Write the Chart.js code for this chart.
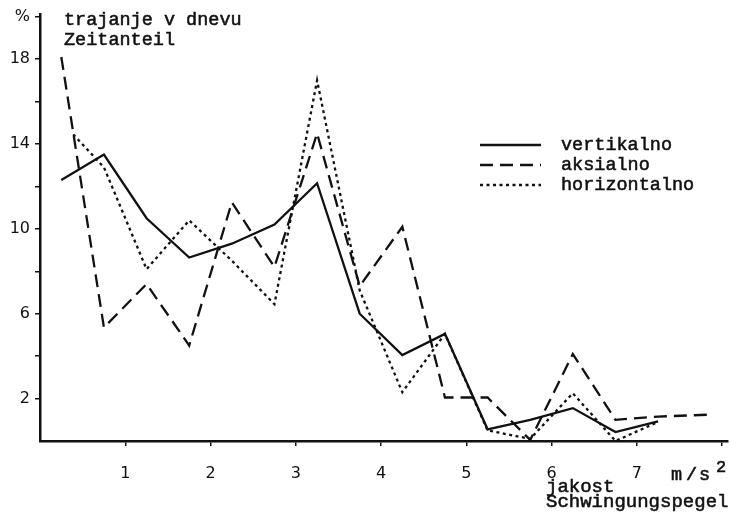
<!DOCTYPE html>
<html>
<head>
<meta charset="utf-8">
<script src="https://cdn.jsdelivr.net/npm/chart.js@4/dist/chart.umd.min.js"></script>
<style>
  html, body { margin: 0; padding: 0; background: #fff; }
  #wrap { width: 732px; height: 521px; }
</style>
</head>
<body>
<div id="wrap"><canvas id="c" width="732" height="521"></canvas></div>
<script>
// Vibration level classes (m/s^2, class midpoints) and share of the day (%)
const xVertikalno = [0.25, 0.75, 1.25, 1.75, 2.25, 2.75, 3.25, 3.75, 4.25, 4.75, 5.25, 5.75, 6.25, 6.75, 7.25];
const vertikalno  = [12.3, 13.5, 10.5, 8.65, 9.3, 10.2, 12.15, 6.0, 4.05, 5.05, 0.55, 1.0, 1.55, 0.42, 0.93];

const xAksialno = [0.25, 0.75, 1.25, 1.75, 2.25, 2.75, 3.25, 3.75, 4.25, 4.75, 5.25, 5.75, 6.25, 6.75, 7.25, 7.9];
const aksialno  = [18.1, 5.35, 7.4, 4.5, 11.25, 8.2, 14.5, 7.3, 10.1, 2.05, 2.05, 0.05, 4.1, 1.0, 1.15, 1.25];

const xHorizontalno = [0.39, 0.75, 1.25, 1.75, 2.25, 2.75, 3.25, 3.75, 4.25, 4.75, 5.25, 5.75, 6.25, 6.75, 7.25];
const horizontalno  = [14.45, 12.9, 8.1, 10.4, 8.5, 6.45, 17.0, 7.1, 2.3, 5.05, 0.5, 0.1, 2.25, 0.0, 0.9];

const seriesLabels = ['vertikalno', 'aksialno', 'horizontalno'];

const xTickValues = [1, 2, 3, 4, 5, 6, 7, 8];
const xTickLabels = ['1', '2', '3', '4', '5', '6', '7', ''];
const yTickValues = [2, 4, 6, 8, 10, 12, 14, 16, 18, 20];
const yTickLabels = ['2', '', '6', '', '10', '', '14', '', '18', '%'];

const INK = '#111';
const MONO = '"Liberation Mono", "DejaVu Sans Mono", monospace';
const SANS = '"DejaVu Sans", "Liberation Sans", sans-serif';

const toPoints = (xs, ys) => xs.map((x, i) => ({ x: x, y: ys[i] }));

// typewriter-weight text: fill plus a hairline outline
function inkText(ctx, str, x, y) {
  ctx.fillText(str, x, y);
  ctx.strokeText(str, x, y);
}

// Axis captions, unit and the line-style key
const annotations = {
  id: 'annotations',
  afterDraw(chart) {
    const ctx = chart.ctx;
    ctx.save();
    ctx.fillStyle = INK;
    ctx.strokeStyle = INK;
    ctx.lineWidth = 0.55;
    ctx.textAlign = 'left';
    ctx.textBaseline = 'alphabetic';
    ctx.font = '18.5px ' + MONO;
    inkText(ctx, 'trajanje v dnevu', 64, 25);
    inkText(ctx, 'Zeitanteil', 64, 45);

    // unit, spaced like typewritten characters
    inkText(ctx, 'm', 671, 480);
    inkText(ctx, '/', 686, 480);
    inkText(ctx, 's', 699, 480);
    ctx.font = '17px ' + MONO;
    inkText(ctx, '2', 716, 472);

    ctx.font = '19px ' + MONO;
    inkText(ctx, 'jakost', 546, 492);
    inkText(ctx, 'Schwingungspegel', 546, 507);

    // key
    const rows = [145, 165, 185];
    chart.data.datasets.forEach((ds, i) => {
      const y = rows[i];
      ctx.beginPath();
      ctx.setLineDash(ds.borderDash || []);
      ctx.lineWidth = ds.borderWidth;
      ctx.moveTo(480, y);
      ctx.lineTo(541, y);
      ctx.stroke();
      ctx.setLineDash([]);
      ctx.lineWidth = 0.55;
      ctx.font = '18.5px ' + MONO;
      ctx.textBaseline = 'middle';
      inkText(ctx, ds.label, 561, y);
    });
    ctx.restore();
  }
};

new Chart(document.getElementById('c'), {
  type: 'line',
  data: {
    datasets: [
      {
        label: seriesLabels[0],
        data: toPoints(xVertikalno, vertikalno),
        borderColor: INK, borderWidth: 2.3, borderDash: [],
        pointRadius: 0, fill: false, tension: 0
      },
      {
        label: seriesLabels[1],
        data: toPoints(xAksialno, aksialno),
        borderColor: INK, borderWidth: 2.3, borderDash: [13, 7],
        pointRadius: 0, fill: false, tension: 0
      },
      {
        label: seriesLabels[2],
        data: toPoints(xHorizontalno, horizontalno),
        borderColor: INK, borderWidth: 2.3, borderDash: [3, 3.5],
        pointRadius: 0, fill: false, tension: 0
      }
    ]
  },
  options: {
    responsive: false,
    animation: false,
    layout: { padding: { top: 11, right: 4, left: 0, bottom: 0 } },
    plugins: {
      legend: { display: false },
      tooltip: { enabled: false }
    },
    scales: {
      x: {
        type: 'linear',
        min: 0,
        max: 8.07,
        afterBuildTicks(scale) { scale.ticks = xTickValues.map(v => ({ value: v })); },
        afterFit(scale) {
          scale.height = 80;
          scale.paddingLeft = 0;
          scale.paddingRight = 0;
        },
        border: { display: true, color: INK, width: 2.5 },
        grid: { display: true, drawOnChartArea: false, drawTicks: true, tickLength: 5, color: INK, lineWidth: 1.5 },
        ticks: {
          autoSkip: false,
          maxRotation: 0,
          padding: 18,
          color: INK,
          font: { family: SANS, size: 16 },
          callback: (v, i) => xTickLabels[i]
        }
      },
      y: {
        type: 'linear',
        min: 0,
        max: 20.1,
        afterBuildTicks(scale) { scale.ticks = yTickValues.map(v => ({ value: v })); },
        afterFit(scale) { scale.width = 40; },
        border: { display: true, color: INK, width: 2.5 },
        grid: { display: true, drawOnChartArea: false, drawTicks: true, tickLength: 5, color: INK, lineWidth: 1.5 },
        ticks: {
          autoSkip: false,
          padding: 5,
          color: INK,
          font: { family: SANS, size: 16 },
          callback: (v, i) => yTickLabels[i]
        }
      }
    }
  },
  plugins: [annotations]
});
</script>
</body>
</html>
